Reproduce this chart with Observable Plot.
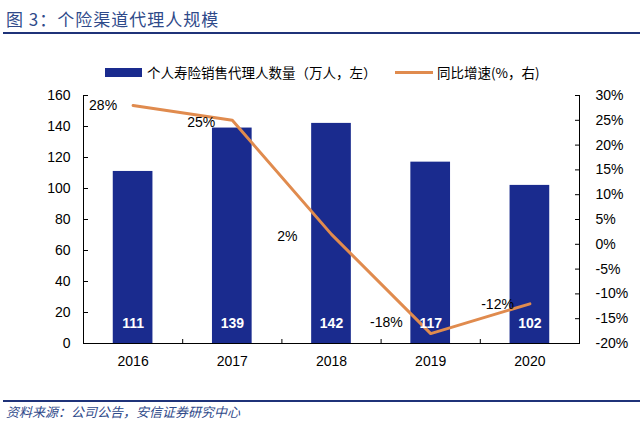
<!DOCTYPE html>
<html><head><meta charset="utf-8">
<script src="https://cdn.jsdelivr.net/npm/d3@7"></script>
<script src="https://cdn.jsdelivr.net/npm/@observablehq/plot@0.6"></script>
<style>
body{margin:0;background:#fff;font-family:"Liberation Sans",Arial,sans-serif;}
#wrap{width:640px;height:428px;position:relative;overflow:hidden;}
.title{position:absolute;left:6px;top:6px;font-family:"Noto Sans CJK SC";font-size:17px;color:#2f4a8a;letter-spacing:1px;}
.hr{position:absolute;left:3px;right:0;height:2px;background:#1f3379;}
.legend{position:absolute;top:62px;left:0;width:640px;font-family:"Noto Sans CJK SC";font-size:13.5px;color:#000;}
.legend span{position:absolute;top:0;white-space:nowrap;}
.sw{position:absolute;}
.caption{position:absolute;left:6px;top:402px;font-family:"Noto Sans CJK SC";font-style:italic;font-size:13px;color:#2f4a8a;}
#chart{position:absolute;left:0;top:85px;}
</style></head>
<body><div id="wrap">
<div class="title">图 3：个险渠道代理人规模</div>
<div class="hr" style="top:32px"></div>
<div class="legend">
  <div class="sw" style="left:105px;top:6px;width:37px;height:9px;background:#1a2b8e"></div>
  <span style="left:147px;">个人寿险销售代理人数量（万人，左）</span>
  <div class="sw" style="left:395px;top:9px;width:38px;height:3px;background:#e08b4e"></div>
  <span style="left:437px;">同比增速(%，右)</span>
</div>
<div id="chart"></div>
<div class="hr" style="top:400px"></div>
<div class="caption">资料来源：公司公告，安信证券研究中心</div>
</div>
<script>
const years = [2016, 2017, 2018, 2019, 2020];
const agents = [111, 139, 142, 117, 102];
const growth = [28, 25, 2, -18, -12];
const leftTicks = [0, 20, 40, 60, 80, 100, 120, 140, 160];
const rightTicks = [-20, -15, -10, -5, 0, 5, 10, 15, 20, 25, 30];
const labelDx = [-16, -17, -34, -28, -16];
const labelDy = [0, 2, 2, -11, 1];

const toLeft = p => (p + 20) * 160 / 50;
const data = years.map((y, i) => ({year: y, agents: agents[i], growth: growth[i], gy: toLeft(growth[i]), i}));
const BAR = "#1a2b8e", LINE = "#e08b4e";
const boundaries = years.slice(0, -1).map(y => y + 0.5);

const plot = Plot.plot({
  width: 640, height: 300,
  marginLeft: 83, marginRight: 61, marginTop: 10, marginBottom: 42,
  style: {fontFamily: "Liberation Sans, Arial, sans-serif", fontSize: "14px", color: "#000", background: "#fff"},
  x: {domain: [2015.5, 2020.5]},
  y: {domain: [0, 160]},
  marks: [
    Plot.rectY(data, {x1: d => d.year - 0.2, x2: d => d.year + 0.2, y: "agents", fill: BAR}),
    Plot.line(data, {x: "year", y: "gy", stroke: LINE, strokeWidth: 3}),
    Plot.text(data, {x: "year", text: d => String(d.agents), frameAnchor: "bottom", dy: -16, fill: "#fff", fontWeight: "bold", fontSize: 14}),
    ...data.map(d => Plot.text([d], {x: "year", y: "gy", text: d => d.growth + "%", textAnchor: "end", dx: labelDx[d.i], dy: labelDy[d.i], fill: "#000", fontSize: 14})),
    Plot.axisY({anchor: "left", ticks: leftTicks, tickSize: -5, tickPadding: 18, label: null, fontSize: 14}),
    Plot.axisY({anchor: "right", ticks: rightTicks.map(toLeft), tickFormat: v => Math.round(v * 50 / 160 - 20) + "%", tickSize: -5, tickPadding: 21, label: null, fontSize: 14}),
    Plot.ruleX([2015.5], {stroke: "#000"}),
    Plot.ruleX([2020.5], {stroke: "#000"}),
    Plot.ruleY([0], {stroke: "#000"}),
    Plot.axisX({ticks: boundaries, tickSize: -4, tickFormat: () => "", label: null}),
    Plot.axisX({ticks: years, tickSize: 0, tickPadding: 13, tickFormat: d => String(d), label: null, fontSize: 14})
  ]
});
document.getElementById("chart").appendChild(plot);
</script>
</body></html>
